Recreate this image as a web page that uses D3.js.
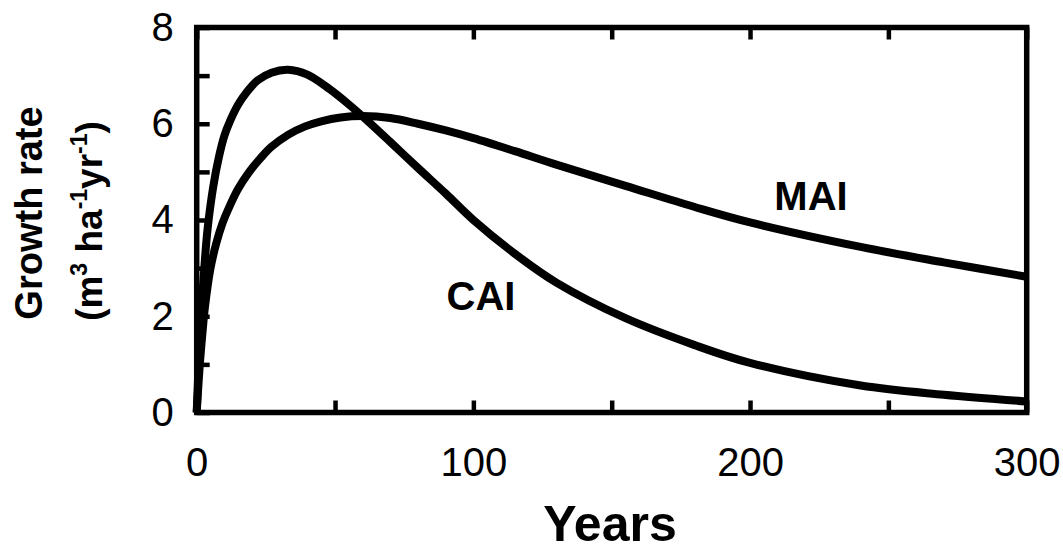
<!DOCTYPE html>
<html>
<head>
<meta charset="utf-8">
<script src="https://cdn.jsdelivr.net/npm/d3@7"></script>
<style>
  body { margin: 0; background: #fff; }
  svg { display: block; font-family: "Liberation Sans", Arial, sans-serif; }
</style>
</head>
<body>
<div id="chart"></div>
<script>
const width = 1063;
const height = 551;

// values
const caiYears = [0, 1, 2, 3, 4, 6, 8, 10, 12, 15, 18, 22, 27, 33, 40, 48, 55, 60, 70, 80, 90, 100, 115, 130, 155, 180, 200, 240, 270, 300];
const caiRate  = [0, 1.4, 2.4, 3.2, 3.85, 4.7, 5.3, 5.75, 6.05, 6.4, 6.65, 6.9, 7.06, 7.12, 7.02, 6.72, 6.4, 6.15, 5.62, 5.08, 4.55, 4.0, 3.3, 2.7, 1.96, 1.4, 1.03, 0.56, 0.37, 0.23];
const maiYears = [0, 1, 2, 3, 5, 7, 9.3, 12, 15, 19, 23, 27, 33, 39, 45, 52, 60, 70, 80, 90, 100, 115, 130, 155, 180, 200, 240, 270, 300];
const maiRate  = [0, 0.9, 1.6, 2.2, 3.0, 3.5, 3.93, 4.3, 4.65, 5.0, 5.28, 5.52, 5.77, 5.94, 6.05, 6.13, 6.16, 6.12, 6.0, 5.86, 5.7, 5.43, 5.15, 4.71, 4.27, 3.95, 3.44, 3.12, 2.82];
const xTicks = [0, 50, 100, 150, 200, 250, 300];
const yTicks = [0, 1, 2, 3, 4, 5, 6, 7, 8];

const margin = {left: 196.7, right: 1063 - 1026.7, top: 27.5, bottom: 551 - 412.5};

const svg = d3.select("#chart")
  .append("svg")
  .attr("width", width)
  .attr("height", height);

const x = d3.scaleLinear().domain([0, 300]).range([margin.left, width - margin.right]);
const y = d3.scaleLinear().domain([0, 8]).range([height - margin.bottom, margin.top]);

const line = d3.line()
  .x(d => x(d[0]))
  .y(d => y(d[1]))
  .curve(d3.curveCatmullRom.alpha(0.5));

const cai = caiYears.map((t, i) => [t, caiRate[i]]);
const mai = maiYears.map((t, i) => [t, maiRate[i]]);

svg.append("path")
  .attr("d", line(cai))
  .attr("fill", "none")
  .attr("stroke", "#000")
  .attr("stroke-width", 8);

svg.append("path")
  .attr("d", line(mai))
  .attr("fill", "none")
  .attr("stroke", "#000")
  .attr("stroke-width", 8);

// axes (ticks point inward)
svg.append("g")
  .attr("transform", `translate(0,${y(0)})`)
  .call(d3.axisBottom(x).tickValues(xTicks).tickSizeInner(-12).tickSizeOuter(0).tickPadding(35)
    .tickFormat(d => d % 100 === 0 ? d : ""));

svg.append("g")
  .attr("transform", `translate(0,${y(8)})`)
  .call(d3.axisTop(x).tickValues(xTicks).tickSizeInner(-12).tickSizeOuter(0).tickFormat(""));

svg.append("g")
  .attr("transform", `translate(${x(0)},0)`)
  .call(d3.axisLeft(y).tickValues(yTicks).tickSizeInner(-13).tickSizeOuter(0).tickPadding(23)
    .tickFormat(d => d % 2 === 0 ? d : ""));

svg.selectAll(".domain").remove();
svg.selectAll(".tick line").attr("stroke", "#000").attr("stroke-width", 4.5);
svg.selectAll(".tick text")
  .attr("fill", "#000")
  .style("font-size", "40px")
  .style("font-family", "'Liberation Sans', Arial, sans-serif");

// frame
svg.append("rect")
  .attr("x", x(0))
  .attr("y", y(8))
  .attr("width", x(300) - x(0))
  .attr("height", y(0) - y(8))
  .attr("fill", "none")
  .attr("stroke", "#000")
  .attr("stroke-width", 5.5);

// curve labels
svg.append("text")
  .attr("x", 481).attr("y", 310)
  .attr("text-anchor", "middle")
  .style("font-size", "40px").style("font-weight", "bold")
  .text("CAI");

svg.append("text")
  .attr("x", 811).attr("y", 210)
  .attr("text-anchor", "middle")
  .style("font-size", "40px").style("font-weight", "bold")
  .text("MAI");

// axis titles
svg.append("text")
  .attr("x", 610).attr("y", 541)
  .attr("text-anchor", "middle")
  .style("font-size", "50px").style("font-weight", "bold")
  .text("Years");

svg.append("text")
  .attr("transform", "translate(42,213) rotate(-90)")
  .attr("text-anchor", "middle")
  .style("font-size", "38px").style("font-weight", "bold")
  .text("Growth rate");

const unit = svg.append("text")
  .attr("transform", "translate(102,221) rotate(-90)")
  .attr("text-anchor", "middle")
  .style("font-size", "37px").style("font-weight", "bold");
unit.append("tspan").text("(m");
unit.append("tspan").attr("dy", -15).style("font-size", "23px").text("3");
unit.append("tspan").attr("dy", 15).text(" ha");
unit.append("tspan").attr("dy", -15).style("font-size", "23px").text("-1");
unit.append("tspan").attr("dy", 15).text("yr");
unit.append("tspan").attr("dy", -15).style("font-size", "23px").text("-1");
unit.append("tspan").attr("dy", 15).text(")");
</script>
</body>
</html>
